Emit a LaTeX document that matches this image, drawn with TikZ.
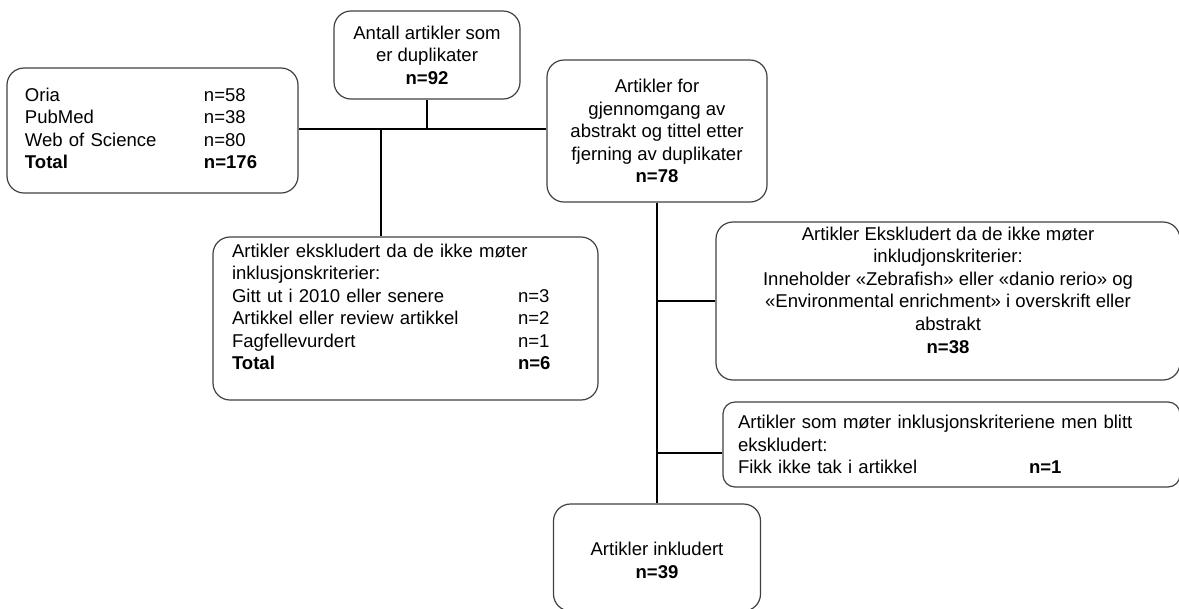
\documentclass[tikz,border=0pt]{standalone}
\usepackage{fontspec}
\setmainfont{Liberation Sans}
\usepackage{array}
\newlength{\pxlen}\setlength{\pxlen}{0.75pt}
\tikzset{
  boks/.style={draw=black!75, line width=1.2\pxlen, rounded corners=17\pxlen, inner sep=0pt, font=\fontsize{13.9}{16.9}\selectfont},
  linje/.style={line width=2\pxlen}
}

\begin{document}
\begin{tikzpicture}[x=0.75pt,y=-0.75pt]
\useasboundingbox (0,0) rectangle (1179,608);
% ---- bokser ----
\node[boks, minimum width=291\pxlen, minimum height=125\pxlen, text width=255\pxlen, align=left] (kilder) at (152.5,130.5) {\begin{tabular}{@{}p{179\pxlen}@{}l@{}}
Oria & n=58\\
PubMed & n=38\\
Web of Science & n=80\\
\textbf{Total} & \textbf{n=176}
\end{tabular}};
\node[boks, minimum width=186\pxlen, minimum height=88\pxlen, align=center] (dupl) at (427,55) {Antall artikler som\\er duplikater\\\textbf{n=92}};
\node[boks, minimum width=220\pxlen, minimum height=142\pxlen, align=center] (gjennomgang) at (657,131) {Artikler for\\gjennomgang av\\abstrakt og tittel etter\\fjerning av duplikater\\\textbf{n=78}};
\node[boks, minimum width=385\pxlen, minimum height=163\pxlen, text width=347\pxlen, align=left] (ekskl) at (405.5,318.5) {\begin{tabular}{@{}p{286\pxlen}@{}l@{}}
\multicolumn{2}{@{}l@{}}{Artikler ekskludert da de ikke møter}\\
\multicolumn{2}{@{}l@{}}{inklusjonskriterier:}\\
Gitt ut i 2010 eller senere & n=3\\
Artikkel eller review artikkel & n=2\\
Fagfellevurdert & n=1\\
\textbf{Total} & \textbf{n=6}\\[19\pxlen]
\end{tabular}};
\node[boks, minimum width=464\pxlen, minimum height=158\pxlen, align=center] (ekskl2) at (948,301) {Artikler Ekskludert da de ikke møter\\inkludjonskriterier:\\Inneholder «Zebrafish» eller «danio rerio» og\\«Environmental enrichment» i overskrift eller\\abstrakt\\\textbf{n=38}\rule[-22\pxlen]{0pt}{0pt}};
\node[boks, rounded corners=12\pxlen, minimum width=457\pxlen, minimum height=85\pxlen, text width=427\pxlen, align=left] (tapt) at (951.5,444.5) {Artikler som møter inklusjonskriteriene men blitt\\ekskludert:\\\makebox[291\pxlen][l]{Fikk ikke tak i artikkel}\textbf{n=1}};
\node[boks, minimum width=207\pxlen, minimum height=107\pxlen, align=center] (inkl) at (657,557.5) {\rule{0pt}{19\pxlen}Artikler inkludert\\\textbf{n=39}};
% ---- linjer ----
\coordinate (k1) at (381,129);
\coordinate (k2) at (657,453);
\draw[linje] (kilder.east |- k1) -- (gjennomgang.west |- k1);
\draw[linje] (dupl.south) -- (dupl.south |- k1);
\draw[linje] (k1) -- (k1 |- ekskl.north);
\draw[linje] (gjennomgang.south) -- (inkl.north);
\draw[linje] (gjennomgang.south |- ekskl2.west) -- (ekskl2.west);
\draw[linje] (k2) -- (k2 -| tapt.west);
\end{tikzpicture}
\end{document}
